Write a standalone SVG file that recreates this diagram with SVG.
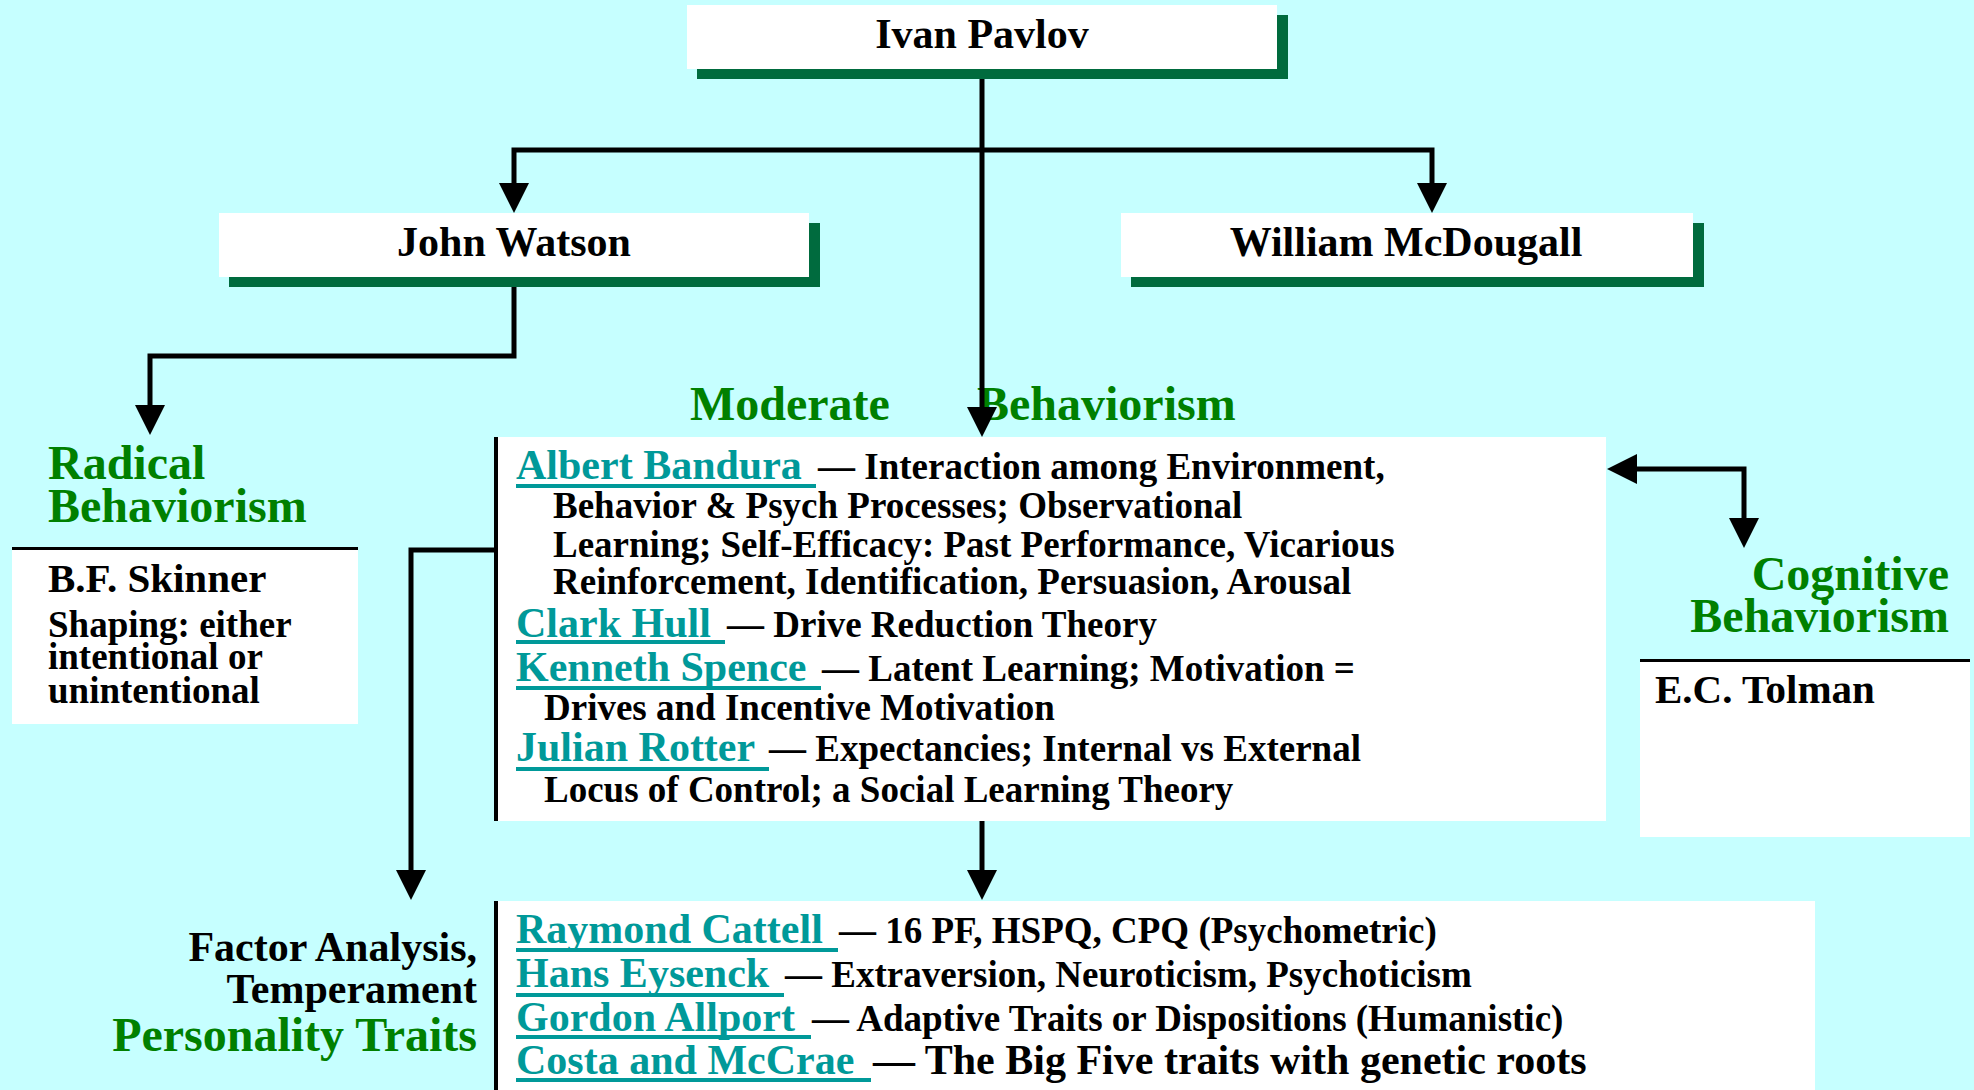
<svg xmlns="http://www.w3.org/2000/svg" width="1974" height="1090" viewBox="0 0 1974 1090">
<style>
text{font-family:"Liberation Serif","Times New Roman",serif;font-weight:bold;fill:#000}
.title{font-size:42px;text-anchor:middle}
.head{font-size:48px;fill:#008000}
.name{font-size:42px;fill:#009999}
.desc{font-size:37px}
.big{font-size:42px}
.sm{font-size:41px}
.shadow{fill:#006B3E}
.box{fill:#fff}
.ul{fill:#009999}
.border{fill:#000}
.conn{fill:none;stroke:#000;stroke-width:5;marker-end:url(#arr)}
.both{marker-start:url(#arr)}
.r{text-anchor:end}
</style>
<defs>
<marker id="arr" markerUnits="userSpaceOnUse" viewBox="0 0 30 30" markerWidth="30" markerHeight="30" refX="10" refY="15" orient="auto-start-reverse">
<path d="M0,0 L30,15 L0,30 z" fill="#000"/>
</marker>
</defs>
<rect width="1974" height="1090" fill="#C6FFFF"/>

<g id="pavlov">
<rect class="shadow" x="697" y="15" width="591" height="64"/>
<rect class="box" x="687" y="5" width="590" height="64"/>
<text class="title" x="982" y="48">Ivan Pavlov</text>
</g>

<g id="watson">
<rect class="shadow" x="229" y="223" width="591" height="64"/>
<rect class="box" x="219" y="213" width="590" height="64"/>
<text class="title" x="514" y="256">John Watson</text>
</g>

<g id="mcdougall">
<rect class="shadow" x="1131" y="223" width="573" height="64"/>
<rect class="box" x="1121" y="213" width="572" height="64"/>
<text class="title" x="1406" y="256">William McDougall</text>
</g>

<g id="radical">
<text class="head" x="48" y="479">Radical</text>
<text class="head" x="48" y="522">Behaviorism</text>
<rect class="box" x="12" y="548" width="346" height="176"/>
<rect class="border" x="12" y="547" width="346" height="3"/>
<text class="sm" x="48" y="592">B.F. Skinner</text>
<text class="desc" x="48" y="637">Shaping: either</text>
<text class="desc" x="48" y="669">intentional or</text>
<text class="desc" x="48" y="703">unintentional</text>
</g>

<g id="moderate">
<text class="head" x="690" y="420">Moderate</text>
<text class="head" x="977" y="420">Behaviorism</text>
<rect class="box" x="497" y="437" width="1109" height="384"/>
<rect class="border" x="494" y="437" width="4" height="384"/>
<text class="name" x="516" y="479">Albert Bandura</text>
<rect class="ul" x="516" y="484" width="300" height="4"/>
<text class="desc" x="818" y="479">— Interaction among Environment,</text>
<text class="desc" x="553" y="518">Behavior &amp; Psych Processes; Observational</text>
<text class="desc" x="553" y="557">Learning; Self-Efficacy: Past Performance, Vicarious</text>
<text class="desc" x="553" y="594">Reinforcement, Identification, Persuasion, Arousal</text>
<text class="name" x="516" y="637">Clark Hull</text>
<rect class="ul" x="516" y="640" width="209" height="4"/>
<text class="desc" x="727" y="637">— Drive Reduction Theory</text>
<text class="name" x="516" y="681">Kenneth Spence</text>
<rect class="ul" x="516" y="686" width="305" height="4"/>
<text class="desc" x="822" y="681">— Latent Learning; Motivation =</text>
<text class="desc" x="544" y="720">Drives and Incentive Motivation</text>
<text class="name" x="516" y="761">Julian Rotter</text>
<rect class="ul" x="516" y="767" width="253" height="4"/>
<text class="desc" x="769" y="761">— Expectancies; Internal vs External</text>
<text class="desc" x="544" y="802">Locus of Control; a Social Learning Theory</text>
</g>

<g id="cognitive">
<text class="head r" x="1949" y="590">Cognitive</text>
<text class="head r" x="1949" y="632">Behaviorism</text>
<rect class="box" x="1640" y="660" width="330" height="177"/>
<rect class="border" x="1640" y="659" width="330" height="3"/>
<text class="sm" x="1655" y="703">E.C. Tolman</text>
</g>

<g id="traits-label">
<text class="big r" x="477" y="961">Factor Analysis,</text>
<text class="big r" x="477" y="1003">Temperament</text>
<text class="head r" x="477" y="1051">Personality Traits</text>
</g>

<g id="traits">
<rect class="box" x="497" y="901" width="1318" height="189"/>
<rect class="border" x="494" y="901" width="4" height="189"/>
<text class="name" x="516" y="943">Raymond Cattell</text>
<rect class="ul" x="516" y="948" width="322" height="4"/>
<text class="desc" x="839" y="943">— 16 PF, HSPQ, CPQ (Psychometric)</text>
<text class="name" x="516" y="987">Hans Eysenck</text>
<rect class="ul" x="516" y="993" width="268" height="4"/>
<text class="desc" x="785" y="987">— Extraversion, Neuroticism, Psychoticism</text>
<text class="name" x="516" y="1031">Gordon Allport</text>
<rect class="ul" x="516" y="1035" width="295" height="4"/>
<text class="desc" x="812" y="1031">— Adaptive Traits or Dispositions (Humanistic)</text>
<text class="name" x="516" y="1074">Costa and McCrae</text>
<rect class="ul" x="516" y="1078" width="355" height="4"/>
<text class="big" x="873" y="1074">— The Big Five traits with genetic roots</text>
</g>

<g id="connectors">
<path class="conn" d="M982,79 V417"/>
<path class="conn both" d="M514,193 V150 H1432 V193"/>
<path class="conn" d="M514,287 V356 H150 V415"/>
<path class="conn" d="M497,550 H411 V880"/>
<path class="conn" d="M982,821 V880"/>
<path class="conn both" d="M1627,469 H1744 V528"/>
</g>
</svg>
